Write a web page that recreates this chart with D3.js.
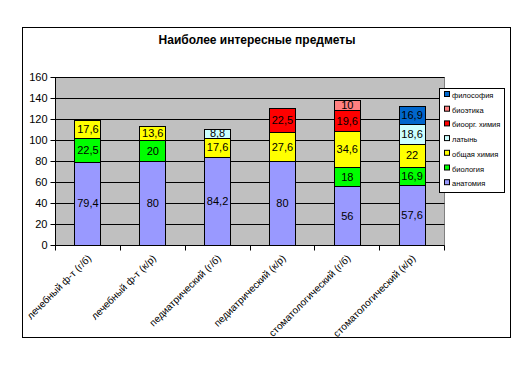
<!DOCTYPE html>
<html>
<head>
<meta charset="utf-8">
<script src="https://cdn.jsdelivr.net/npm/d3@7"></script>
<style>
  body { margin: 0; background: #fff; }
  svg text { font-family: "Liberation Sans", Arial, sans-serif; }
</style>
</head>
<body>
<div class="chart"></div>
<script>
  //Chart data
  var categories = ['лечебный ф-т (г/б)', 'лечебный ф-т (к/р)', 'педиатрический (г/б)',
    'педиатрический (к/р)', 'стоматологический (г/б)', 'стоматологический (к/р)'];
  var seriesNames = ['анатомия', 'биология', 'общая химия', 'латынь', 'биоорг. химия', 'биоэтика', 'философия'];
  var anatomy   = [79.4, 80, 84.2, 80, 56, 57.6];
  var biology   = [22.5, 20, 0, 0, 18, 16.9];
  var genChem   = [17.6, 13.6, 17.6, 27.6, 34.6, 22];
  var latin     = [0, 0, 8.8, 0, 0, 18.6];
  var bioorg    = [0, 0, 0, 22.5, 19.6, 0];
  var bioethics = [0, 0, 0, 0, 10, 0];
  var philosophy = [0, 0, 0, 0, 0, 16.9];
  var yTicks = [0, 20, 40, 60, 80, 100, 120, 140, 160];

  var seriesValues = [anatomy, biology, genChem, latin, bioorg, bioethics, philosophy];
  var colors = ['#9999FF', '#00FF00', '#FFFF00', '#CCFFFF', '#FF0000', '#FF8080', '#0066CC'];

  var width = 516, height = 387;
  var plot = { left: 55, top: 77, right: 444, bottom: 245 };

  var svg = d3.select('.chart').append('svg').attr('width', width).attr('height', height);

  //Outer border
  svg.append('rect').attr('x', 22.5).attr('y', 27.5).attr('width', 488).attr('height', 310)
    .attr('fill', '#fff').attr('stroke', '#000').attr('stroke-width', 1);

  //Title
  svg.append('text').attr('x', 257).attr('y', 44).attr('text-anchor', 'middle')
    .style('font-size', '12px').style('font-weight', 'bold').text('Наиболее интересные предметы');

  var x = d3.scaleBand().domain(categories).range([plot.left, plot.right]).paddingInner(0.6).paddingOuter(0.3);
  var xb = d3.scaleBand().domain(categories).range([plot.left, plot.right]);
  var y = d3.scaleLinear().domain([0, 160]).range([plot.bottom, plot.top]);

  //Plot area
  svg.append('rect').attr('x', plot.left + 0.5).attr('y', plot.top + 0.5)
    .attr('width', plot.right - plot.left).attr('height', plot.bottom - plot.top)
    .attr('fill', '#C0C0C0').attr('stroke', '#808080');

  //Gridlines
  svg.append('g').selectAll('line').data(yTicks.slice(1)).enter().append('line')
    .attr('x1', plot.left).attr('x2', plot.right + 0.5)
    .attr('y1', function(d){ return Math.round(y(d)) + 0.5; })
    .attr('y2', function(d){ return Math.round(y(d)) + 0.5; })
    .attr('stroke', '#000');

  //Stacked bars
  var rows = categories.map(function(c, i){
    var r = { cat: c };
    seriesNames.forEach(function(s, j){ r[s] = seriesValues[j][i]; });
    return r;
  });
  var stack = d3.stack().keys(seriesNames)(rows);

  var layers = svg.append('g').selectAll('g').data(stack).enter().append('g')
    .attr('fill', function(d, i){ return colors[i]; });

  layers.selectAll('rect').data(function(d){ return d.filter(function(p){ return p[1] - p[0] > 0; }); })
    .enter().append('rect')
    .attr('x', function(d){ return Math.round(x(d.data.cat)) + 0.5; })
    .attr('width', Math.round(x.bandwidth()))
    .attr('y', function(d){ return Math.round(y(d[1])) + 0.5; })
    .attr('height', function(d){ return Math.round(y(d[0])) - Math.round(y(d[1])); })
    .attr('stroke', '#000');

  //Value labels
  layers.selectAll('text').data(function(d){ return d.filter(function(p){ return p[1] - p[0] > 0; }); })
    .enter().append('text')
    .attr('x', function(d){ return x(d.data.cat) + x.bandwidth() / 2 + 0.5; })
    .attr('y', function(d){ return (y(d[0]) + y(d[1])) / 2 + 4; })
    .attr('text-anchor', 'middle').attr('fill', '#000')
    .style('font-size', '11px')
    .text(function(d){ return String(+(d[1] - d[0]).toFixed(1)).replace('.', ','); });

  //Y axis
  var yAxis = svg.append('g').attr('transform', 'translate(' + (plot.left + 0.5) + ',0)')
    .call(d3.axisLeft(y).tickValues(yTicks).tickSize(5).tickPadding(3));
  yAxis.select('.domain').attr('stroke', '#000').attr('d', 'M0,' + plot.top + 'V' + (plot.bottom + 0.5));
  yAxis.selectAll('text').style('font-size', '11px').attr('fill', '#000').style('font-family', '"Liberation Sans", Arial, sans-serif');

  //X axis
  var xAxisG = svg.append('g').attr('transform', 'translate(0,' + (plot.bottom + 0.5) + ')');
  xAxisG.append('line').attr('x1', plot.left).attr('x2', plot.right + 0.5).attr('stroke', '#000');
  xAxisG.selectAll('.tk').data(categories.concat([null])).enter().append('line')
    .attr('x1', function(d, i){ return Math.round(plot.left + i * xb.bandwidth()) + 0.5; })
    .attr('x2', function(d, i){ return Math.round(plot.left + i * xb.bandwidth()) + 0.5; })
    .attr('y1', 0).attr('y2', 5).attr('stroke', '#000');
  xAxisG.selectAll('text').data(categories).enter().append('text')
    .attr('transform', function(d){ return 'translate(' + (xb(d) + xb.bandwidth() / 2 + 2) + ',11) rotate(-45)'; })
    .attr('text-anchor', 'end').attr('dy', '0.35em')
    .style('font-size', '10px')
    .text(function(d){ return d; });

  //Legend
  var legend = svg.append('g');
  legend.append('rect').attr('x', 439.5).attr('y', 88.5).attr('width', 65).attr('height', 104)
    .attr('fill', '#fff').attr('stroke', '#000');
  var items = legend.selectAll('.item').data(seriesNames.slice().reverse()).enter().append('g')
    .attr('transform', function(d, i){ return 'translate(444,' + (95 + i * 14.7) + ')'; });
  items.append('rect').attr('x', 0.5).attr('y', -3.5).attr('width', 5).attr('height', 5)
    .attr('fill', function(d){ return colors[seriesNames.indexOf(d)]; }).attr('stroke', '#000');
  items.append('text').attr('x', 8).attr('y', 3).style('font-size', '7.5px')
    .each(function(d){
      var t = d3.select(this).text(d);
      if (this.getComputedTextLength() > 51) t.attr('textLength', 51).attr('lengthAdjust', 'spacingAndGlyphs');
    });
</script>
</body>
</html>
